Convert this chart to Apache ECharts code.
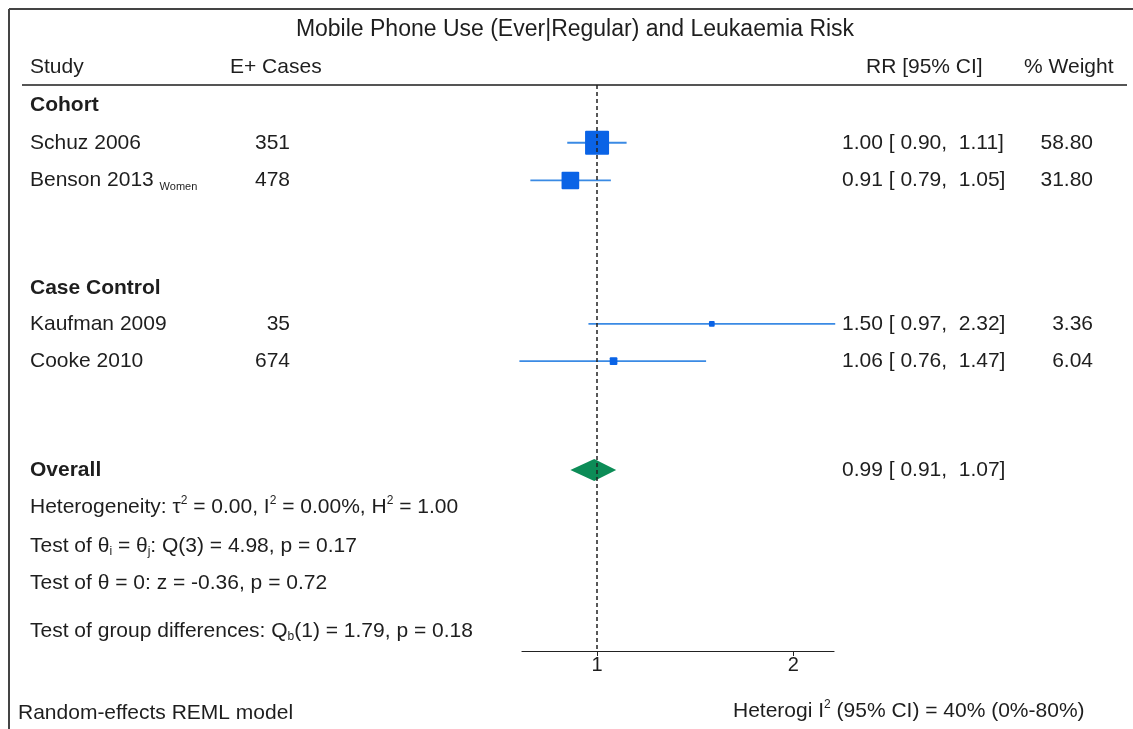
<!DOCTYPE html>
<html>
<head>
<meta charset="utf-8">
<script src="https://cdn.jsdelivr.net/npm/echarts@6/dist/echarts.min.js"></script>
<style>
  html, body { margin: 0; padding: 0; background: #fff; }
  #chart { width: 1133px; height: 729px; }
</style>
</head>
<body>
<div id="chart"></div>
<script>
// study level data
const studies = ["Schuz 2006", "Benson 2013", "Kaufman 2009", "Cooke 2010"];
const studyNotes = ["", "Women", "", ""];
const cases = [351, 478, 35, 674];
const rr = [1.0, 0.91, 1.5, 1.06];
const ciLow = [0.9, 0.79, 0.97, 0.76];
const ciHigh = [1.11, 1.05, 2.32, 1.47];
const weights = [58.8, 31.8, 3.36, 6.04];

// pooled estimate [rr, low, high]
const overall = [0.99, 0.91, 1.07];

const groups = ["Cohort", "Case Control"];
const xTicks = [1, 2];
const statLines = [
  "Heterogeneity: τ{sup|2} = 0.00, I{sup|2} = 0.00%, H{sup|2} = 1.00",
  "Test of θ{sub|i} = θ{sub|j}: Q(3) = 4.98, p = 0.17",
  "Test of θ = 0: z = -0.36, p = 0.72",
  "Test of group differences: Q{sub|b}(1) = 1.79, p = 0.18",
];

// row layout (y axis units, one unit per text line)
const studyRows = [1.03, 2.03, 5.83, 6.82];
const groupRows = [0, 4.85];
const overallRow = 9.7;
const statRows = [10.68, 11.72, 12.7, 13.97];

const FONT = "Liberation Sans, Arial, sans-serif";
const TXT = "#1e1e1e";
const FS = 21;

const chart = echarts.init(document.getElementById("chart"));

const fmt = (v) => v.toFixed(2);

const option = {
  animation: false,
  grid: { left: 522, width: 312, top: 85, height: 566 },
  xAxis: {
    type: "value",
    min: Math.log(0.767),
    max: Math.log(2.31),
    splitLine: { show: false },
    axisLine: { onZero: false, lineStyle: { color: "#222", width: 1.2 } },
    axisTick: {
      customValues: xTicks.map((t) => Math.log(t)),
      length: 5,
      lineStyle: { color: "#222" },
    },
    axisLabel: {
      customValues: xTicks.map((t) => Math.log(t)),
      formatter: (v) => String(Math.round(Math.exp(v))),
      color: TXT,
      fontSize: 20,
      fontFamily: FONT,
      margin: 4,
    },
  },
  yAxis: { type: "value", inverse: true, min: -0.5, max: 14.5, show: false },
  series: [
    {
      type: "line",
      data: [],
      z: 1,
      markLine: {
        silent: true,
        symbol: "none",
        label: { show: false },
        lineStyle: { type: [4, 3], color: "#222", width: 1.5 },
        data: [{ xAxis: 0 }],
      },
    },
    {
      type: "custom",
      z: 3,
      clip: false,
      data: studies.map((s, i) => [
        Math.log(rr[i]),
        studyRows[i],
        Math.log(ciLow[i]),
        Math.log(ciHigh[i]),
        weights[i],
      ]),
      renderItem(params, api) {
        const c = api.coord([api.value(0), api.value(1)]);
        const l = api.coord([api.value(2), api.value(1)]);
        const h = api.coord([api.value(3), api.value(1)]);
        const s = Math.sqrt(api.value(4)) * 3.13;
        return {
          type: "group",
          children: [
            {
              type: "line",
              shape: { x1: l[0], y1: l[1], x2: h[0], y2: h[1] },
              style: { stroke: "#3a8ae4", lineWidth: 1.8 },
            },
            {
              type: "rect",
              shape: { x: c[0] - s / 2, y: c[1] - s / 2, width: s, height: s, r: 1 },
              style: { fill: "#0a63e6" },
            },
          ],
        };
      },
    },
    {
      type: "custom",
      z: 3,
      data: [[Math.log(overall[0]), overallRow, Math.log(overall[1]), Math.log(overall[2])]],
      renderItem(params, api) {
        const c = api.coord([api.value(0), api.value(1)]);
        const l = api.coord([api.value(2), api.value(1)]);
        const h = api.coord([api.value(3), api.value(1)]);
        return {
          type: "polygon",
          shape: { points: [[l[0], c[1]], [c[0], c[1] - 11], [h[0], c[1]], [c[0], c[1] + 11]] },
          style: { fill: "#0c8c57" },
        };
      },
    },
  ],
};

chart.setOption(option);

const yPix = (row) => chart.convertToPixel({ yAxisIndex: 0 }, row);

function txt(x, y, text, extra) {
  return {
    type: "text",
    x: x,
    y: y,
    silent: true,
    style: Object.assign(
      {
        text: text,
        fill: TXT,
        fontSize: FS,
        fontFamily: FONT,
        verticalAlign: "middle",
        align: "left",
      },
      extra || {}
    ),
  };
}

const richScript = {
  sup: { fontSize: 12, lineHeight: 12, verticalAlign: "top", fill: TXT, fontFamily: FONT },
  sub: { fontSize: 12, lineHeight: 12, verticalAlign: "bottom", fill: TXT, fontFamily: FONT },
  w: { fontSize: 11, lineHeight: 9, verticalAlign: "bottom", fill: TXT, fontFamily: FONT },
};

const graphics = [
  // frame and header rule
  { type: "line", silent: true, shape: { x1: 9, y1: 9, x2: 1133, y2: 9 }, style: { stroke: "#444", lineWidth: 2 } },
  { type: "line", silent: true, shape: { x1: 9, y1: 9, x2: 9, y2: 729 }, style: { stroke: "#444", lineWidth: 2 } },
  { type: "line", silent: true, shape: { x1: 22, y1: 85, x2: 1127, y2: 85 }, style: { stroke: "#555", lineWidth: 1.8 } },
  txt(575, 30, "Mobile Phone Use (Ever|Regular) and Leukaemia Risk", { align: "center", fontSize: 23 }),
  txt(30, 67, "Study"),
  txt(230, 67, "E+ Cases"),
  txt(866, 67, "RR [95% CI]"),
  txt(1024, 67, "% Weight"),
  txt(18, 713, "Random-effects REML model"),
  txt(733, 711, "Heterogi I{sup|2} (95% CI) = 40% (0%-80%)", { rich: richScript, lineHeight: 24 }),
];

groups.forEach((g, i) => {
  graphics.push(txt(30, yPix(groupRows[i]) + 1, g, { fontWeight: "bold" }));
});

studies.forEach((s, i) => {
  const y = yPix(studyRows[i]);
  const label = studyNotes[i] ? s + " {w|" + studyNotes[i] + "}" : s;
  graphics.push(txt(30, y, label, { rich: richScript, lineHeight: 24 }));
  graphics.push(txt(290, y, String(cases[i]), { align: "right" }));
  graphics.push(txt(842, y, fmt(rr[i]) + " [ " + fmt(ciLow[i]) + ",  " + fmt(ciHigh[i]) + "]"));
  graphics.push(txt(1093, y, fmt(weights[i]), { align: "right" }));
});

const yo = yPix(overallRow);
graphics.push(txt(30, yo, "Overall", { fontWeight: "bold" }));
graphics.push(txt(842, yo, fmt(overall[0]) + " [ " + fmt(overall[1]) + ",  " + fmt(overall[2]) + "]"));

statLines.forEach((t, i) => {
  graphics.push(txt(30, yPix(statRows[i]), t, { rich: richScript, lineHeight: 24 }));
});

chart.setOption({ graphic: graphics });

window.addEventListener("resize", () => chart.resize());
</script>
</body>
</html>
